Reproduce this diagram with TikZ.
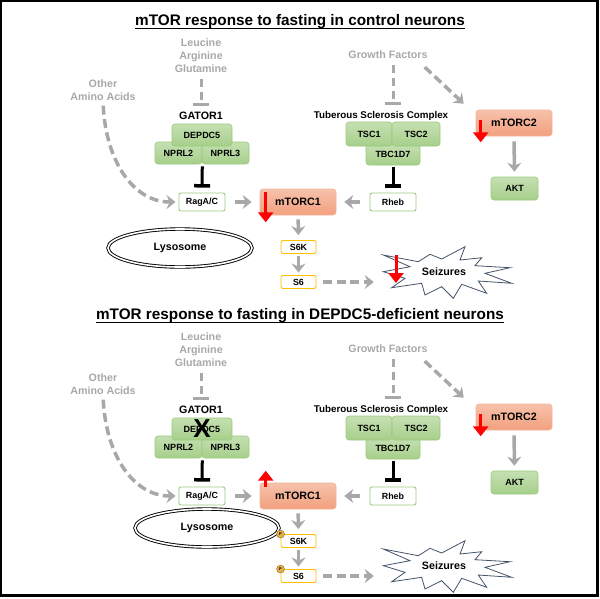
\documentclass[tikz,border=0pt]{standalone}
\usepackage{fontspec}
\setmainfont{Liberation Sans}
\usetikzlibrary{positioning, arrows.meta, shapes.geometric}
\definecolor{gcolor}{HTML}{A6CF8A}
\definecolor{gline}{HTML}{9ACA7C}
\definecolor{mcolor}{HTML}{F2A07E}
\definecolor{mline}{HTML}{F4B49A}
\definecolor{ycolor}{HTML}{FFC000}
\definecolor{lgray}{HTML}{A8A8A8}
\definecolor{scolor}{HTML}{44546A}
\definecolor{pcolor}{HTML}{E3B04B}
\definecolor{pline}{HTML}{8F6E22}

\begin{document}
\begin{tikzpicture}[x=1pt, y=-1pt,
    lbl/.style={font=\fontsize{10.7}{13}\selectfont\bfseries, align=center, inner sep=1pt},
    glbl/.style={lbl, text=lgray},
    gbox/.style={rectangle, rounded corners=3pt, draw=gline, top color=gcolor!65!white, bottom color=gcolor, font=\fontsize{9}{10}\selectfont\bfseries, inner sep=0pt, line width=0.6pt},
    mbox/.style={rectangle, rounded corners=3pt, draw=mline, top color=mcolor!65!white, bottom color=mcolor, font=\fontsize{10.7}{12}\selectfont\bfseries, minimum width=76pt, minimum height=26pt, inner sep=0pt, line width=0.6pt},
    wbox/.style={rectangle, rounded corners=2pt, draw=gline, fill=white, line width=0.9pt, font=\fontsize{8.9}{10}\selectfont\bfseries, inner sep=0pt, minimum width=46pt, minimum height=18pt},
    ybox/.style={wbox, draw=ycolor, minimum width=35pt, minimum height=13pt},
    burst/.style={draw=scolor, fill=white, line width=0.8pt, line join=miter},
    arr/.style={lgray, line width=3.5pt, -{Stealth[length=9pt, width=14pt, inset=3pt]}},
    darr/.style={arr, dash pattern=on 9pt off 4.5pt},
    ginh/.style={lgray, line width=3pt, dash pattern=on 8pt off 5pt, -{Bar[width=16pt, line width=3pt]}},
    binh/.style={black, line width=3pt, -{Bar[width=16pt, line width=3.5pt]}},
    redarr/.style={red, line width=3pt, -{Triangle[length=10pt, width=15pt]}},
  ]
  \useasboundingbox (0,0) rectangle (600,598);
  \draw[line width=2.4pt] (1.2,1.2) rectangle (597.6,595.6);

  \foreach \off/\ttl/\lx/\ly in {0/{mTOR response to fasting in control neurons}/180/248,
      294/{mTOR response to fasting in DEPDC5-deficient neurons}/207/234} {
    \begin{scope}[shift={(0,\off)}, name prefix=p\off-]
      \node[lbl, inner sep=0pt, font=\fontsize{15.3}{17}\selectfont\bfseries] (title) at (300,22) {\ttl};
      \draw[line width=1.3pt] ([yshift=-2.8pt]title.base west) -- ([yshift=-2.8pt]title.base east);

      % GATOR1 branch
      \node[glbl] (leu) at (201,56) {Leucine\\Arginine\\Glutamine};
      \node[glbl] (oaa) at (103,90) {Other\\Amino Acids};
      \node[lbl] (gator) at (201,116) {GATOR1};
      \node[gbox, minimum width=47pt, minimum height=22pt] (nprl2) at (178.5,153) {NPRL2};
      \node[gbox, minimum width=47pt, minimum height=22pt] (nprl3) at (225.5,153) {NPRL3};
      \node[gbox, minimum width=60pt, minimum height=22pt] (dep) at (202,135) {DEPDC5};
      \node[wbox] (raga) at (202,202) {RagA/C};

      % TSC branch
      \node[glbl] (gf) at (388,55) {Growth Factors};
      \node[lbl, font=\fontsize{9.8}{11}\selectfont\bfseries] (tsc) at (381,116) {Tuberous Sclerosis Complex};
      \node[gbox, minimum width=54pt, minimum height=21pt] (tbc) at (393,154.5) {TBC1D7};
      \node[gbox, minimum width=46pt, minimum height=24pt] (tsc1) at (369,134) {TSC1};
      \node[gbox, minimum width=48pt, minimum height=24pt] (tsc2) at (416,134) {TSC2};
      \node[wbox] (rheb) at (393,202) {Rheb};

      % mTOR complexes and targets
      \node[mbox] (mtor1) at (298,202) {mTORC1};
      \node[mbox] (mtor2) at (514,123) {mTORC2};
      \node[gbox, minimum width=47pt, minimum height=23pt] (akt) at (514.5,188.5) {AKT};
      \node[ybox] (s6k) at (298.5,247) {S6K};
      \node[ybox] (s6) at (298.5,282) {S6};
      \draw[burst, shift={(444,272)}] (-60.7,-17) -- (-25.7,-10.3) -- (-14,-17.7) -- (-2.3,-13)
        -- (21,-25.3) -- (16,-12) -- (37.7,-14.3) -- (31,-6.3) -- (66,-4.3) -- (41,1.3)
        -- (67.7,11.3) -- (34.3,9) -- (42.7,21.3) -- (17.7,12.3) -- (9.3,26.3) -- (-2.3,14.7)
        -- (-19,23) -- (-22.3,11.3) -- (-52.3,15.7) -- (-39,6.3) -- (-60.7,-0.3) -- (-34,-5.3) -- cycle;
      \node[lbl, minimum width=128pt] (seiz) at (444,272) {Seizures};
      \node[ellipse, draw, double, double distance=1.6pt, line width=0.9pt,
        minimum width=144pt, minimum height=38pt, lbl] (lyso) at (\lx,\ly) {Lysosome};

      \draw[ginh, shorten <=5pt, shorten >=5pt] (leu.south) -- (gator.north);
      \draw[ginh, shorten <=5pt, shorten >=5pt] ([xshift=5pt]gf.south) -- ([xshift=12pt]tsc.north);
      \draw[darr] ([xshift=-4pt, yshift=-7pt]gf.south east) -- ([xshift=-12pt, yshift=6pt]mtor2.north west);
      \draw[darr, shorten <=4pt, shorten >=3pt] (oaa.south) .. controls +(3,60) and +(-45,0) .. (raga.west);
      \draw[binh, shorten <=2pt, shorten >=5pt] (nprl2.south east) -- (raga.north);
      \draw[binh, shorten <=2pt, shorten >=5pt] (tbc.south) -- (rheb.north);
      \draw[arr, shorten <=10pt, shorten >=8pt] (raga) -- (mtor1);
      \draw[arr, shorten <=10pt, shorten >=8pt] (rheb) -- (mtor1);
      \draw[arr, shorten <=4pt, shorten >=5pt] (mtor1) -- (s6k);
      \draw[arr, shorten <=2.5pt, shorten >=2.5pt] (s6k) -- (s6);
      \draw[darr, shorten <=7pt, shorten >=6pt] (s6) -- (s6 -| seiz.west);
      \draw[arr, shorten <=5pt, shorten >=5pt] (mtor2) -- (akt);
    \end{scope}
  }

  % control: mTORC1 down
  \draw[redarr] ([xshift=6pt, yshift=-3pt]p0-mtor1.north west) -- ([xshift=6pt, yshift=-7pt]p0-mtor1.south west);
  \draw[redarr] ([xshift=5pt, yshift=-10pt]p0-mtor2.north west) -- ([xshift=5pt, yshift=-6pt]p0-mtor2.south west);
  \draw[redarr] ([xshift=-48pt, yshift=17pt]p0-seiz.center) -- ([xshift=-48pt, yshift=-11pt]p0-seiz.center);

  % DEPDC5 loss: mTORC1 up
  \node[font=\fontsize{26}{26}\selectfont\bfseries, inner sep=0pt] (ko) at (p294-dep) {X};
  \draw[redarr] ([xshift=6pt, yshift=-4pt]p294-mtor1.north west) -- ([xshift=6pt, yshift=12pt]p294-mtor1.north west);
  \draw[redarr] ([xshift=5pt, yshift=-10pt]p294-mtor2.north west) -- ([xshift=5pt, yshift=-6pt]p294-mtor2.south west);
  \node[circle, draw=pline, fill=pcolor, inner sep=0pt, minimum size=8pt, font=\fontsize{4}{4}\selectfont\bfseries] (p1) at (p294-s6k.north west) {P};
  \node[circle, draw=pline, fill=pcolor, inner sep=0pt, minimum size=8pt, font=\fontsize{4}{4}\selectfont\bfseries] (p2) at (p294-s6.north west) {P};
\end{tikzpicture}
\end{document}
